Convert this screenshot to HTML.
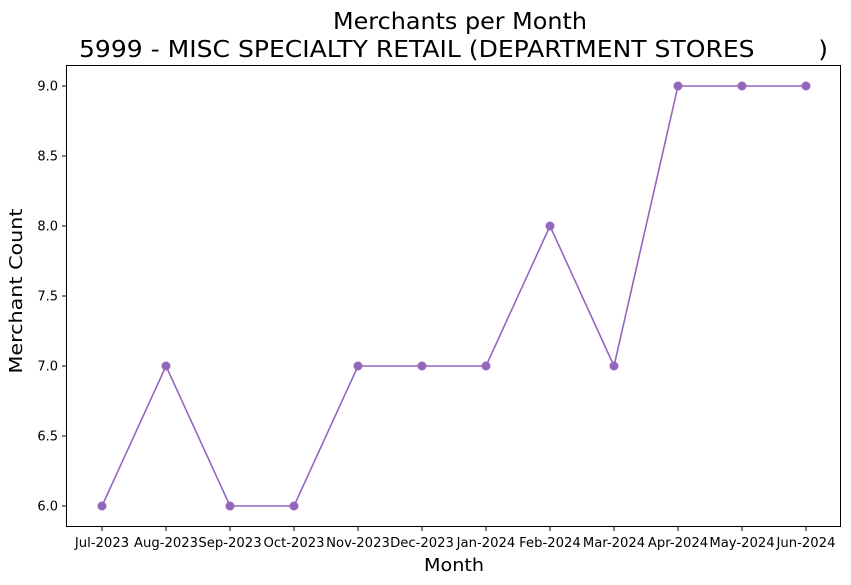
<!DOCTYPE html>
<html><head><meta charset="utf-8"><style>
body{margin:0;background:#fff;}
svg{display:block;font-family:"DejaVu Sans","Liberation Sans",sans-serif;}
</style></head><body>
<svg id="chart" width="851" height="585">
<text x="333" y="29" font-size="23" textLength="254" lengthAdjust="spacingAndGlyphs">Merchants per Month</text>
<text x="79" y="57" font-size="23" textLength="749" lengthAdjust="spacingAndGlyphs" xml:space="preserve">5999 - MISC SPECIALTY RETAIL (DEPARTMENT STORES        )</text>
<rect x="66.5" y="65.5" width="774" height="461" fill="none" stroke="#000" stroke-width="1"/>
<g id="xticks"></g><g id="yticks"></g><g id="series"></g>
<text x="424" y="571" font-size="18" textLength="60" lengthAdjust="spacingAndGlyphs">Month</text>
<text transform="translate(22,291) rotate(-90)" font-size="18" text-anchor="middle" textLength="165" lengthAdjust="spacingAndGlyphs">Merchant Count</text>
</svg>
<script>
const categories=["Jul-2023","Aug-2023","Sep-2023","Oct-2023","Nov-2023","Dec-2023","Jan-2024","Feb-2024","Mar-2024","Apr-2024","May-2024","Jun-2024"];
const merchantCounts=[6,7,6,6,7,7,7,8,7,9,9,9];
const yTicks=[6.0,6.5,7.0,7.5,8.0,8.5,9.0];
const NS="http://www.w3.org/2000/svg";
function xs(i){return 102+i*64;}
function ys(v){return 506-(v-6)*140;}
function mk(t,a,p){const e=document.createElementNS(NS,t);for(const k in a)e.setAttribute(k,a[k]);p.appendChild(e);return e;}
const xg=document.getElementById('xticks'),yg=document.getElementById('yticks'),sg=document.getElementById('series');
categories.forEach((c,i)=>{
 const l=mk('line',{x1:xs(i),x2:xs(i),y1:527,y2:531,stroke:'#000'},xg);
 
 
 const t=mk('text',{x:xs(i),y:547,'font-size':13.2,'text-anchor':'middle'},xg);t.textContent=c;
 
 
});
yTicks.forEach(v=>{
 const l=mk('line',{x1:62,x2:66,y1:ys(v),y2:ys(v),stroke:'#000'},yg);
 
 
 const t=mk('text',{x:58,y:ys(v)+4.5,'font-size':13,'text-anchor':'end'},yg);t.textContent=v.toFixed(1);
 
 
});
const pl=mk('polyline',{points:merchantCounts.map((v,i)=>xs(i)+','+ys(v)).join(' '),fill:'none',stroke:'#9467bd','stroke-width':1.6},sg);


merchantCounts.forEach((v,i)=>{
 const c=mk('circle',{cx:xs(i),cy:ys(v),r:4.5,fill:'#9467bd'},sg);
 
 
});
</script>
</body></html>
